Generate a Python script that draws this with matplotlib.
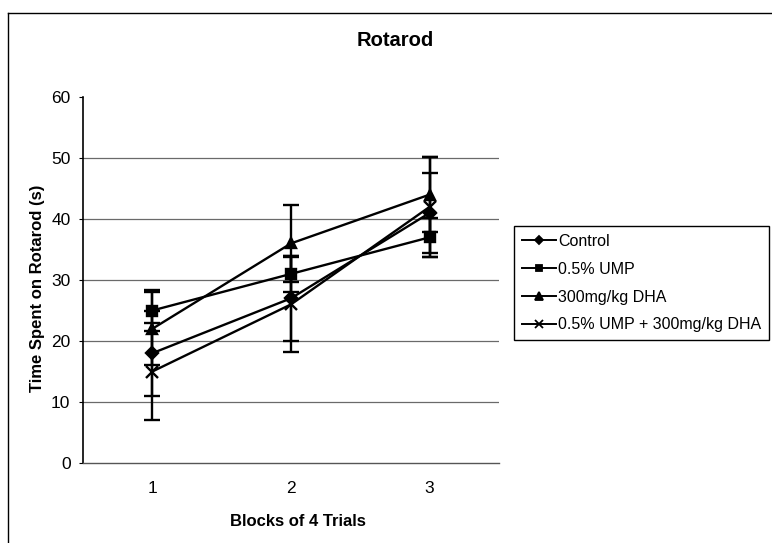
#!/usr/bin/env python3
"""Rotarod performance across trial blocks (line chart with error bars)."""

import matplotlib

matplotlib.use("Agg")
import matplotlib.pyplot as plt
from matplotlib.lines import Line2D

plt.rcParams["font.family"] = ["Liberation Sans", "DejaVu Sans"]

blocks = ["1", "2", "3"]
series_names = ["Control", "0.5% UMP", "300mg/kg DHA", "0.5% UMP + 300mg/kg DHA"]
control = [18, 27, 41]
control_err = [7, 7, 6.6]
ump = [25, 31, 37]
ump_err = [3.4, 3, 3.2]
dha = [22, 36, 44]
dha_err = [6, 6.3, 6.2]
ump_dha = [15, 26, 42]
ump_dha_err = [8, 7.8, 8.2]
y_ticks = [0, 10, 20, 30, 40, 50, 60]

W, H = 772, 543


def main() -> int:
    fig = plt.figure(figsize=(W / 100, H / 100), dpi=100)
    fig.patch.set_facecolor("white")

    # chart-area border (top and left edges visible in the scan)
    fig.add_artist(Line2D([8 / W, 1.0], [1 - 13 / H, 1 - 13 / H], color="black", lw=1.0))
    fig.add_artist(Line2D([8 / W, 8 / W], [0, 1 - 13 / H], color="black", lw=1.0))

    ax = fig.add_axes([83 / W, (H - 463) / H, (499 - 83) / W, (463 - 97) / H])
    x = list(range(len(blocks)))

    styles = [
        (control, control_err, "D", 6),
        (ump, ump_err, "s", 6.5),
        (dha, dha_err, "^", 7.5),
        (ump_dha, ump_dha_err, "x", 8),
    ]
    handles = []
    for name, (vals, err, mk, ms) in zip(series_names, styles):
        ax.errorbar(
            x, vals, yerr=err, color="black", lw=1.7, marker=mk, ms=ms,
            mew=1.7, mfc="black", mec="black", ecolor="black", elinewidth=1.7,
            capsize=5.5, capthick=1.7, zorder=3,
        )
        handles.append(Line2D([], [], color="black", lw=1.4, marker=mk,
                              ms=ms * 0.75, mew=1.3, mfc="black", mec="black",
                              label=name))

    ax.set_xlim(-0.5, len(blocks) - 0.5)
    ax.set_ylim(0, 60)
    ax.set_yticks(y_ticks)
    ax.set_xticks(x)
    ax.set_xticklabels(blocks)
    for yv in y_ticks[1:-1]:
        ax.axhline(yv, color="#6a6a6a", lw=0.9, zorder=1)

    for side in ("top", "right"):
        ax.spines[side].set_visible(False)
    ax.spines["left"].set_linewidth(1.2)
    ax.spines["bottom"].set_color("#555555")
    ax.spines["bottom"].set_linewidth(1.0)
    ax.tick_params(axis="y", length=3, width=0.8, pad=6, labelsize=12.5)
    ax.tick_params(axis="x", length=0, pad=13, labelsize=12.5)

    fig.text(395 / W, 1 - 41 / H, "Rotarod", ha="center", va="center",
             fontsize=14.5, fontweight="bold")
    fig.text(298 / W, 1 - 521 / H, "Blocks of 4 Trials", ha="center", va="center",
             fontsize=12, fontweight="bold")
    fig.text(38 / W, 1 - 288 / H, "Time Spent on Rotarod (s)", ha="center", va="center",
             rotation=90, fontsize=12, fontweight="bold")

    leg = fig.legend(
        handles=handles, loc="upper left", bbox_to_anchor=(514 / W, 1 - 226 / H),
        fontsize=11.5, frameon=True, fancybox=False, framealpha=1, edgecolor="black",
        handlelength=2.1, handletextpad=0.15, labelspacing=0.8, borderpad=0.5,
        borderaxespad=0, numpoints=1,
    )
    leg.get_frame().set_linewidth(1.0)

    fig.savefig("out.png", dpi=100)
    plt.close(fig)
    return 0


if __name__ == "__main__":
    raise SystemExit(main())
